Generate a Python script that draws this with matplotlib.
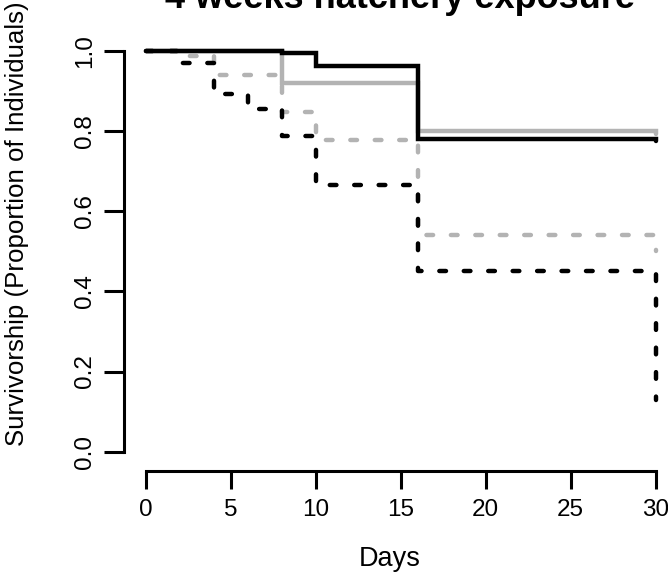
import numpy as np
import matplotlib
matplotlib.use("Agg")
import matplotlib.pyplot as plt

plt.rcParams['font.family'] = ['Liberation Sans', 'DejaVu Sans']

# Kaplan-Meier style survivorship curves
days_solid_black = [0, 8, 10, 16, 30]
surv_solid_black = [1.0, 0.994, 0.963, 0.781, 0.775]

days_solid_grey = [0, 8, 16, 30]
surv_solid_grey = [1.0, 0.921, 0.800, 0.792]

days_dash_grey = [0, 2, 4, 8, 10, 16, 30]
surv_dash_grey = [1.0, 0.987, 0.941, 0.848, 0.777, 0.540, 0.50]

days_dash_black = [0, 2, 4, 6, 8, 10, 16, 30]
surv_dash_black = [1.0, 0.971, 0.892, 0.856, 0.787, 0.665, 0.451, 0.13]

x_ticks = [0, 5, 10, 15, 20, 25, 30]
y_ticks = [0.0, 0.2, 0.4, 0.6, 0.8, 1.0]

W, H = 668, 573
fig = plt.figure(figsize=(W / 100, H / 100), dpi=100)

# axes placed in pixel terms
left, right, top, bottom = 124, 668, 32, 471
ax = fig.add_axes([left / W, 1 - bottom / H, (right - left) / W, (bottom - top) / H])

px_day = (655.5 - 145.7) / 30
px_unit = 451.7 - 51
ax.set_xlim(-(145.7 - left) / px_day, (right - 145.7) / px_day)
ax.set_ylim(-(bottom - 451.7) / px_unit, 1 + (51 - top) / px_unit)

grey = '#b3b3b3'
lw = 3.2
dash = (0, (1.5, 4.0))

ax.step(days_solid_grey, surv_solid_grey, where='post', color=grey, lw=lw,
        solid_joinstyle='miter', solid_capstyle='round')
ax.step(days_dash_grey, surv_dash_grey, where='post', color=grey, lw=lw,
        linestyle=dash, dash_capstyle='round')
ax.step(days_dash_black, surv_dash_black, where='post', color='black', lw=lw,
        linestyle=dash, dash_capstyle='round')
ax.step(days_solid_black, surv_solid_black, where='post', color='black', lw=lw,
        solid_joinstyle='miter', solid_capstyle='round')

for s in ['top', 'right']:
    ax.spines[s].set_visible(False)
ax.spines['left'].set_bounds(0, 1)
ax.spines['bottom'].set_bounds(0, 30)
for s in ['left', 'bottom']:
    ax.spines[s].set_linewidth(2.2)

ax.set_xticks(x_ticks)
ax.set_yticks(y_ticks)
ax.set_yticklabels([f'{v:.1f}' for v in y_ticks], rotation=90, va='center')
ax.tick_params(axis='x', length=13, width=2.2, labelsize=17.5, pad=7)
ax.tick_params(axis='y', length=14.4, width=2.2, labelsize=17.5, pad=6)

fig.text(17 / W, 1 - 224 / H, 'Survivorship (Proportion of Individuals)',
         rotation=90, ha='center', va='center', fontsize=18.6)
fig.text(390 / W, 1 - 566 / H, 'Days', ha='center', va='baseline', fontsize=19.5)
fig.text(400 / W, 1 - 7.5 / H, '4 weeks hatchery exposure', ha='center',
         va='baseline', fontsize=26, fontweight='bold')

fig.savefig('out.png', dpi=100)
